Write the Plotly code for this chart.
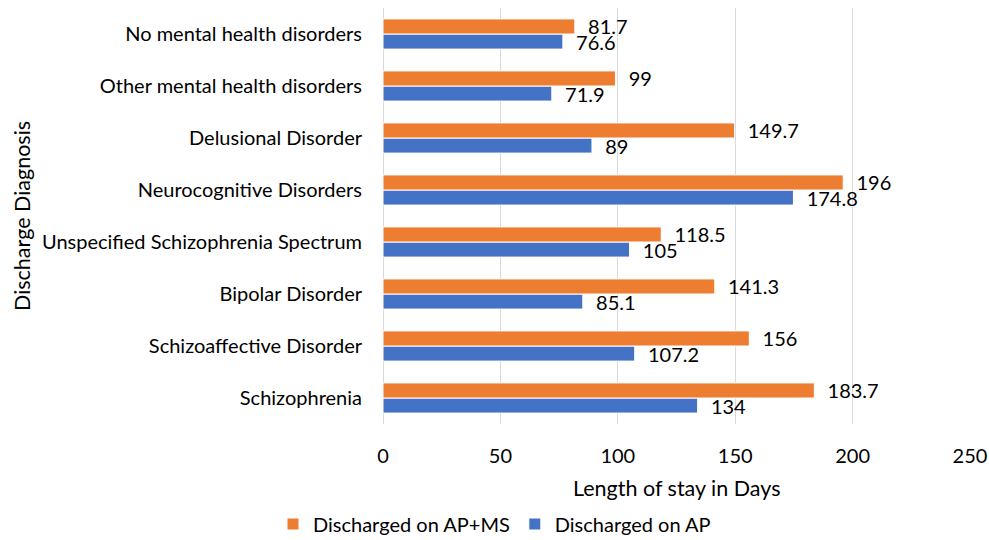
import plotly.graph_objects as go

categories = ["Schizophrenia", "Schizoaffective Disorder", "Bipolar Disorder",
              "Unspecified Schizophrenia Spectrum", "Neurocognitive Disorders",
              "Delusional Disorder", "Other mental health disorders",
              "No mental health disorders"]
ap_ms = [183.7, 156, 141.3, 118.5, 196, 149.7, 99, 81.7]
ap = [134, 107.2, 85.1, 105, 174.8, 89, 71.9, 76.6]
x_ticks = [0, 50, 100, 150, 200, 250]

FONT = "Lato"
FS = 20
TFS = 21.5
L, R, T, B = 383, 19, 8, 116
W, H = 989, 540
pw = W - L - R
ph = H - T - B

fig = go.Figure()
fig.add_trace(go.Bar(
    y=categories, x=ap, orientation="h", name="Discharged on AP",
    marker=dict(color="#4472C4", line=dict(color="#ffffff", width=1)),
    text=ap, texttemplate="\u00a0\u00a0%{x}", textposition="outside",
    constraintext="none",
    textfont=dict(size=FS, color="#000000", family=FONT), cliponaxis=False))
fig.add_trace(go.Bar(
    y=categories, x=ap_ms, orientation="h", name="Discharged on AP+MS",
    marker=dict(color="#ED7D31", line=dict(color="#ffffff", width=1)),
    text=ap_ms, texttemplate="\u00a0\u00a0%{x}", textposition="outside",
    constraintext="none",
    textfont=dict(size=FS, color="#000000", family=FONT), cliponaxis=False))

fig.update_layout(
    width=W, height=H,
    margin=dict(l=L, r=R, t=T, b=B, autoexpand=False),
    barmode="group", bargap=0.42, bargroupgap=0,
    plot_bgcolor="white", paper_bgcolor="white",
    font=dict(family=FONT, size=FS, color="#000000"),
    legend=dict(orientation="h", traceorder="reversed",
                xref="container", yref="container",
                x=0.5, xanchor="center", y=(H - 524) / H, yanchor="middle",
                font=dict(size=FS), itemwidth=30),
    xaxis=dict(range=[0, 250], tickvals=x_ticks, showgrid=True,
               gridcolor="#d9d9d9", gridwidth=1, zeroline=True,
               zerolinecolor="#d9d9d9", zerolinewidth=1, showline=False,
               ticks="", ticklabelstandoff=18, automargin=False,
               tickfont=dict(size=FS)),
    yaxis=dict(categoryorder="array", categoryarray=categories,
               showgrid=False, showline=False, ticks="", automargin=False,
               ticklabelstandoff=20, tickfont=dict(size=FS)),
    annotations=[
        dict(text="Length of stay in Days", xref="paper", yref="paper",
             x=0.5, y=-(488 - (T + ph)) / ph, xanchor="center", yanchor="middle",
             showarrow=False, font=dict(size=TFS)),
        dict(text="Discharge Diagnosis", xref="paper", yref="paper",
             x=(22 - L) / pw, y=0.5, xanchor="center", yanchor="middle",
             textangle=-90, showarrow=False, font=dict(size=TFS)),
    ],
)
fig.write_html("out.html", config={"displayModeBar": False},
               post_script="document.body.style.margin='0';document.body.style.padding='0';")
